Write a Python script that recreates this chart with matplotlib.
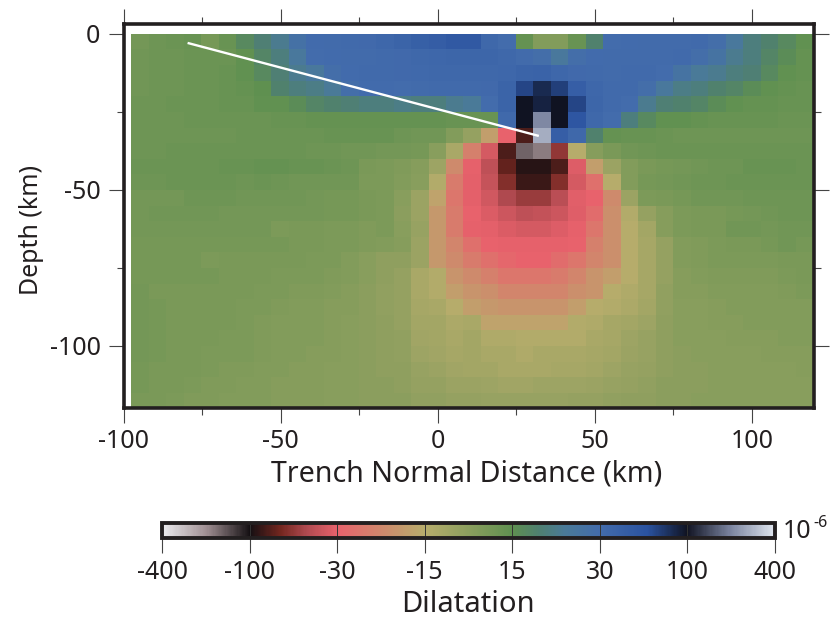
import numpy as np
import matplotlib
matplotlib.use("Agg")
import matplotlib.pyplot as plt
from matplotlib.colors import LinearSegmentedColormap, FuncNorm
from matplotlib.cm import ScalarMappable

plt.rcParams['font.family'] = ['Noto Sans', 'DejaVu Sans']
plt.rcParams['axes.unicode_minus'] = False

W, H = 831, 620

# Dilatation (1e-6), one row per depth cell from the surface down, 39 columns
row_00 = [8,10,11,12,7,12,17,20,23,28,31,32,33,34,37,42,48,52,58,58,36,30,13,3,3,12,19,30,31,32,32,32,33,29,25,21,19,17,14]
row_01 = [9,10,10,11,11,11,14,18,21,25,30,31,32,32,33,34,36,37,38,38,38,36,32,29,25,29,31,32,32,32,32,33,29,27,23,21,18,16,13]
row_02 = [9,10,10,11,11,12,14,17,20,23,25,29,31,33,33,34,35,36,36,36,36,37,42,43,37,34,33,32,33,33,30,27,24,23,21,20,17,14,13]
row_03 = [9,10,10,11,11,12,13,15,19,21,22,24,29,31,31,30,32,33,33,33,34,42,75,88,78,50,37,33,33,29,25,22,21,19,18,16,14,13,12]
row_04 = [10,10,11,11,11,12,12,14,14,16,18,19,20,21,21,22,21,21,23,24,30,42,100,92,100,75,38,33,30,23,20,19,18,16,14,13,13,12,12]
row_05 = [10,10,10,11,11,11,11,11,12,12,13,13,13,13,13,13,13,13,12,12,12,35,100,255,100,62,36,30,21,17,14,14,13,12,12,12,12,11,11]
row_06 = [10,10,10,10,10,10,11,11,11,11,11,12,12,12,12,10,9,9,3,-3,-18,-30,-85,310,50,36,19,13,12,12,11,10,10,10,10,10,10,10,10]
row_07 = [10,10,11,11,11,11,11,11,11,11,10,10,9,9,8,8,7,1,-10,-24,-38,-85,-195,-226,-65,-14,2,6,9,10,11,11,11,11,11,11,11,11,11]
row_08 = [11,11,11,11,11,12,12,13,13,12,12,11,10,6,5,4,2,-6,-22,-31,-48,-80,-95,-95,-85,-35,-18,-5,3,6,7,8,9,10,10,12,12,12,11]
row_09 = [10,10,11,11,11,11,10,11,10,9,9,9,9,5,5,3,1,-13,-25,-32,-45,-70,-90,-90,-70,-38,-27,-14,3,7,8,9,10,10,11,11,11,11,11]
row_10 = [8,8,8,10,10,10,9,9,9,9,8,7,7,6,5,1,-5,-17,-26,-32,-40,-55,-62,-62,-50,-33,-30,-22,-5,5,6,7,9,9,9,10,10,10,10]
row_11 = [8,9,9,9,9,8,8,8,8,8,8,7,7,6,5,0,-5,-19,-25,-30,-36,-42,-48,-46,-42,-34,-28,-21,-13,-3,2,5,6,6,7,8,9,10,10]
row_12 = [8,8,8,8,8,8,8,8,5,6,6,5,5,4,5,1,-4,-19,-25,-31,-32,-36,-38,-38,-35,-31,-26,-21,-14,-8,2,5,6,6,9,9,8,9,9]
row_13 = [7,7,7,7,7,7,7,7,7,6,6,5,5,4,3,2,-5,-19,-23,-27,-30,-31,-31,-31,-31,-30,-24,-21,-14,-9,-3,3,4,5,6,6,7,9,7]
row_14 = [7,7,7,7,5,6,6,6,6,6,5,5,3,1,-1,-1,-5,-19,-22,-25,-27,-29,-30,-30,-28,-26,-23,-21,-14,-9,-3,3,4,5,5,5,5,6,6]
row_15 = [7,7,7,7,7,6,6,6,5,5,5,4,3,1,-1,-3,-10,-13,-20,-22,-24,-26,-26,-26,-25,-23,-20,-18,-14,-9,-3,2,3,4,4,4,4,5,6]
row_16 = [8,6,6,6,6,6,6,5,5,4,4,3,2,0,-2,-3,-10,-13,-18,-20,-21,-23,-23,-23,-23,-21,-20,-14,-12,-9,-2,2,2,3,3,3,3,4,5]
row_17 = [8,7,6,6,6,6,5,5,4,3,3,2,2,0,-2,-3,-9,-10,-14,-18,-19,-20,-20,-20,-20,-18,-14,-13,-11,-8,-2,1,1,2,3,3,3,3,3]
row_18 = [8,7,6,6,6,6,5,4,3,3,3,2,1,0,-1,-3,-8,-8,-11,-10,-17,-17,-17,-17,-17,-13,-12,-9,-8,-6,-1,1,1,2,2,3,3,3,3]
row_19 = [8,7,6,6,6,5,5,4,3,3,3,2,1,0,-1,-2,-7,-8,-10,-8,-12,-12,-13,-13,-13,-13,-10,-9,-6,-4,-1,1,1,1,2,2,2,3,3]
row_20 = [8,7,6,6,5,5,5,4,3,3,2,2,1,0,-1,-2,-6,-7,-9,-8,-10,-10,-12,-10,-10,-10,-9,-8,-5,-4,-1,0,1,1,1,1,2,2,2]
row_21 = [7,6,6,6,5,4,4,3,3,2,2,1,1,0,-1,-1,-4,-5,-7,-8,-8,-10,-10,-10,-9,-9,-8,-6,-4,-3,-1,0,0,1,1,1,1,1,2]
row_22 = [7,6,6,5,4,4,3,3,2,2,2,1,1,0,0,-1,-3,-3,-5,-5,-6,-7,-7,-6,-6,-6,-5,-4,-3,-2,0,0,0,1,1,1,1,1,1]
row_23 = [6,6,5,4,4,3,3,3,2,2,2,1,1,0,0,0,-2,-2,-3,-3,-4,-4,-4,-4,-4,-3,-3,-2,-1,-1,0,0,1,1,1,1,1,1,1]
dilatation_rows = [row_00,row_01,row_02,row_03,row_04,row_05,row_06,row_07,row_08,row_09,row_10,row_11,
                   row_12,row_13,row_14,row_15,row_16,row_17,row_18,row_19,row_20,row_21,row_22,row_23]

# Fault trace (km)
fault_x = [-79.6, 32.2]
fault_y = [-2.9, -32.7]

# Colour scale
levels = [-400, -100, -30, -15, 15, 30, 100, 400]
level_labels = ['-400', '-100', '-30', '-15', '15', '30', '100', '400']
x_majors = [-100, -50, 0, 50, 100]
x_minors = [-75, -25, 25, 75]
y_majors = [0, -50, -100]
y_minors = [-25, -75]

Z = np.array(dilatation_rows, dtype=float)
assert Z.shape == (24, 39)
x_edges = np.linspace(-97.5, 119.5, Z.shape[1] + 1)
y_edges = np.linspace(0, -120, Z.shape[0] + 1)

pos = np.linspace(0, 1, len(levels))
norm = FuncNorm((lambda v: np.interp(v, levels, pos), lambda t: np.interp(t, pos, levels)),
                vmin=levels[0], vmax=levels[-1])
s = 1 / 7
cmap = LinearSegmentedColormap.from_list('dil', [
    (0.0, '#ebebee'), (0.5 * s, '#a08f93'), (1 * s, '#140f12'), (1.35 * s, '#74261f'),
    (1.65 * s, '#b04a50'), (2 * s, '#e8626c'), (3 * s, '#b8ad6c'), (4 * s, '#5f9050'),
    (4.3 * s, '#4f8070'), (4.6 * s, '#4a7a98'), (5 * s, '#436cac'), (5.55 * s, '#2a52a0'),
    (6 * s, '#101322'), (6.5 * s, '#7b84a0'), (1.0, '#dfe5ee')], N=512)

fig = plt.figure(figsize=(W / 100, H / 100), dpi=100)

def rect(l, t, r, b):
    return [l / W, 1 - b / H, (r - l) / W, (b - t) / H]

ax = fig.add_axes(rect(123.5, 24.2, 813.7, 408.4))
ax.pcolormesh(x_edges, y_edges, Z, cmap=cmap, norm=norm, shading='flat', edgecolors='none')
ax.plot(fault_x, fault_y, color='white', lw=1.7, solid_capstyle='butt')
ax.set_xlim(-100, 119.7)
ax.set_ylim(-120, 3.1)
for sp in ax.spines.values():
    sp.set_linewidth(2.6)
    sp.set_color('#231f20')
ax.set_xticks(x_majors)
ax.set_xticks(x_minors, minor=True)
ax.set_yticks(y_majors)
ax.set_yticks(y_minors, minor=True)
ax.set_xticklabels([str(v) for v in x_majors])
ax.set_yticklabels([str(v) for v in y_majors])
ax.tick_params(axis='both', which='major', direction='out', length=10.5, width=0.8, color='#444444',
               top=True, right=True, labelsize=18, labelcolor='#231f20')
ax.tick_params(axis='both', which='minor', direction='out', length=5.2, width=0.8, color='#444444',
               top=True, right=True)
ax.tick_params(axis='x', which='major', pad=4)
ax.tick_params(axis='y', which='major', pad=6)

fig.text(467 / W, 1 - 474 / H, 'Trench Normal Distance (km)', ha='center', va='center', fontsize=20.6, color='#231f20')
fig.text(31 / W, 1 - 230 / H, 'Depth (km)', ha='center', va='center', rotation=90, fontsize=18, color='#231f20')

cax = fig.add_axes(rect(162, 522.5, 775, 537.5))
cb = fig.colorbar(ScalarMappable(norm=norm, cmap=cmap), cax=cax, orientation='horizontal', ticks=levels)
cb.set_ticklabels(level_labels)
cb.minorticks_off()
cb.outline.set_linewidth(2.8)
cb.outline.set_edgecolor('#231f20')
for v in levels[1:-1]:
    cax.axvline(v, color='#333333', lw=0.7)
cax.tick_params(axis='x', which='major', direction='out', length=11, width=0.8, color='#444444',
                labelsize=18, labelcolor='#231f20', pad=5)
fig.text(468 / W, 1 - 604 / H, 'Dilatation', ha='center', va='center', fontsize=21, color='#231f20')
fig.text(783 / W, 1 - 531 / H, '10', ha='left', va='center', fontsize=18, color='#231f20')
fig.text(813 / W, 1 - 523 / H, '-6', ha='left', va='center', fontsize=11.5, color='#231f20')

fig.savefig('out.png', dpi=100)
